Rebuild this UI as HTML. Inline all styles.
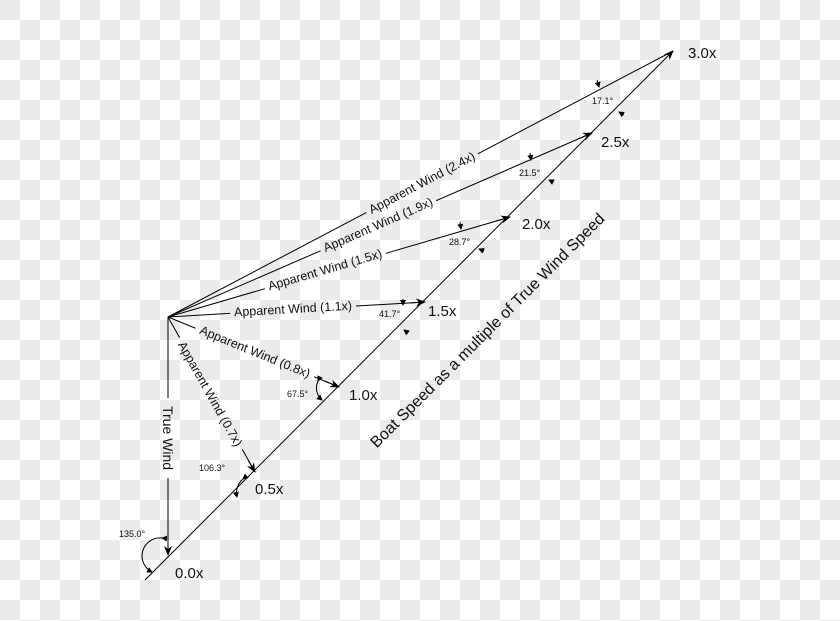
<!DOCTYPE html>
<html><head><meta charset="utf-8"><style>
html,body{margin:0;padding:0;}
body{width:840px;height:621px;overflow:hidden;
background-color:#fff;
background-image:linear-gradient(45deg,#ebebeb 25%,transparent 25%,transparent 75%,#ebebeb 75%),linear-gradient(45deg,#ebebeb 25%,transparent 25%,transparent 75%,#ebebeb 75%);
background-size:40px 40px;background-position:20px 0,0 20px;}
svg{position:absolute;left:0;top:0;}
text{font-family:"Liberation Sans",sans-serif;fill:#111;}
</style></head><body>
<svg width="840" height="621" viewBox="0 0 840 621">
<defs>
<marker id="ah" markerWidth="10" markerHeight="8" refX="9" refY="4" orient="auto" markerUnits="userSpaceOnUse">
<path d="M0,0 L10,4 L0,8 L3,4 Z" fill="#000"/></marker>
<marker id="sm" markerWidth="6" markerHeight="6" refX="5" refY="3" orient="auto" markerUnits="userSpaceOnUse">
<path d="M0,0 L6,3 L0,6 Z" fill="#000"/></marker>
<mask id="gap" maskUnits="userSpaceOnUse" x="0" y="0" width="840" height="621">
<rect x="0" y="0" width="840" height="621" fill="#fff"/>
<g fill="#000">
<rect x="-40" y="-7" width="80" height="14" transform="translate(168,438) rotate(90)"/>
<rect x="-64" y="-7" width="128" height="14" transform="translate(210,394) rotate(60.7)"/>
<rect x="-64" y="-7" width="128" height="14" transform="translate(255,352) rotate(22.3)"/>
<rect x="-63" y="-7" width="126" height="14" transform="translate(293,309) rotate(-3.3)"/>
<rect x="-63" y="-7" width="126" height="14" transform="translate(325,270) rotate(-16.3)"/>
<rect x="-63" y="-7" width="126" height="14" transform="translate(378,225) rotate(-23.5)"/>
<rect x="-63" y="-7" width="126" height="14" transform="translate(422,183) rotate(-27.8)"/>
</g>
</mask>
</defs>
<g stroke="#000" stroke-width="1" fill="none">
<line x1="145" y1="580" x2="673" y2="51" marker-end="url(#ah)"/>
<g mask="url(#gap)">
<line x1="168" y1="317" x2="168" y2="555"/>
<line x1="168" y1="317" x2="255" y2="472"/>
<line x1="168" y1="317" x2="339" y2="387"/>
<line x1="168" y1="317" x2="425" y2="302"/>
<line x1="168" y1="317" x2="510" y2="217"/>
<line x1="168" y1="317" x2="592" y2="133"/>
<line x1="168" y1="317" x2="673" y2="51"/>
</g>
<!-- arrow tips -->
<line x1="168" y1="540" x2="168" y2="555" marker-end="url(#ah)"/>
<line x1="248" y1="460" x2="255" y2="472" marker-end="url(#ah)"/>
<line x1="325" y1="381" x2="339" y2="387" marker-end="url(#ah)"/>
<line x1="410" y1="303" x2="425" y2="302" marker-end="url(#ah)"/>
<line x1="496" y1="221" x2="510" y2="217" marker-end="url(#ah)"/>
<line x1="578" y1="139" x2="592" y2="133" marker-end="url(#ah)"/>
<!-- angle arcs -->
<path d="M162,538 A18,18 0 0 0 152,572" marker-start="url(#sm)" marker-end="url(#sm)"/>
<path d="M243,479 A18,18 0 0 0 237,497" marker-start="url(#sm)" marker-end="url(#sm)"/>
<path d="M318,381 A16,16 0 0 0 322,400" marker-start="url(#sm)" marker-end="url(#sm)"/>
<path d="M403,299 L403,305" marker-end="url(#sm)"/>
<path d="M408,333 L404,330" marker-end="url(#sm)"/>
<path d="M460,222 L461,229" marker-end="url(#sm)"/>
<path d="M484,251 L479,249" marker-end="url(#sm)"/>
<path d="M530,153 L531,160" marker-end="url(#sm)"/>
<path d="M553,182 L549,180" marker-end="url(#sm)"/>
<path d="M597,80 L599,87" marker-end="url(#sm)"/>
<path d="M624,115 L619,112" marker-end="url(#sm)"/>
</g>
<g font-size="15">
<text x="175" y="578">0.0x</text>
<text x="255" y="494">0.5x</text>
<text x="349" y="400">1.0x</text>
<text x="428" y="316">1.5x</text>
<text x="522" y="229">2.0x</text>
<text x="601" y="147">2.5x</text>
<text x="688" y="58">3.0x</text>
</g>
<g font-size="9">
<text x="119" y="537">135.0°</text>
<text x="199" y="471">106.3°</text>
<text x="287" y="397">67.5°</text>
<text x="379" y="317">41.7°</text>
<text x="449" y="245">28.7°</text>
<text x="519" y="176">21.5°</text>
<text x="592" y="104">17.1°</text>
</g>
<g font-size="12.5" text-anchor="middle" dominant-baseline="central">
<text transform="translate(168,438) rotate(90)" font-size="14">True Wind</text>
<text transform="translate(210,394) rotate(60.7)">Apparent Wind (0.7x)</text>
<text transform="translate(255,352) rotate(22.3)">Apparent Wind (0.8x)</text>
<text transform="translate(293,309) rotate(-3.3)">Apparent Wind (1.1x)</text>
<text transform="translate(325,270) rotate(-16.3)">Apparent Wind (1.5x)</text>
<text transform="translate(378,225) rotate(-23.5)">Apparent Wind (1.9x)</text>
<text transform="translate(422,183) rotate(-27.8)">Apparent Wind (2.4x)</text>
<text transform="translate(488,331) rotate(-45)" font-size="16">Boat Speed as a multiple of True Wind Speed</text>
</g>
</svg>
</body></html>
